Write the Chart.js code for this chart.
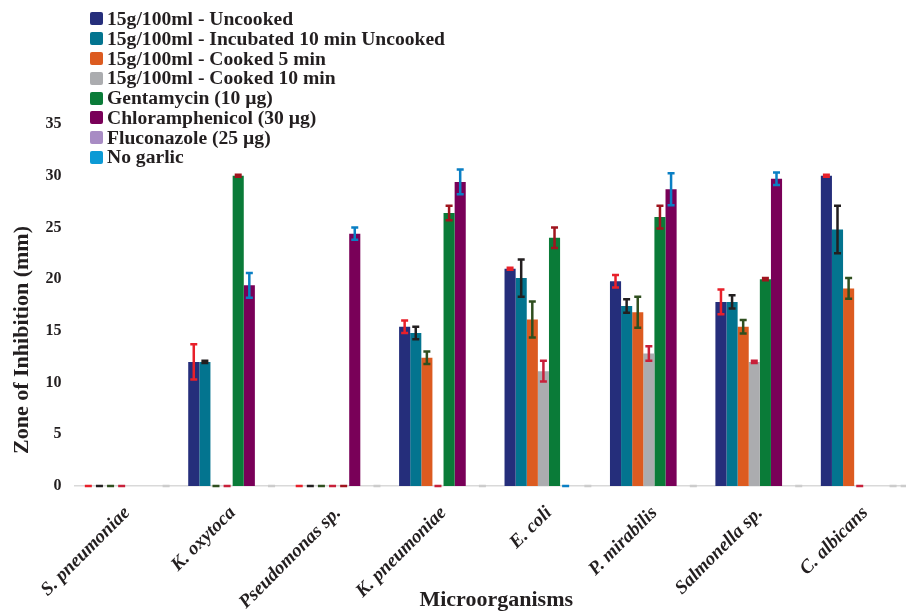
<!DOCTYPE html>
<html>
<head>
<meta charset="utf-8">
<script src="https://cdn.jsdelivr.net/npm/chart.js@4.4.0/dist/chart.umd.min.js"></script>
<style>
  html, body { margin: 0; padding: 0; background: #fff; overflow: hidden; }
  #wrap { position: relative; width: 920px; height: 611px; }
  #legenda { position: absolute; left: 90px; top: 9px; font: bold 19.6px "Liberation Serif", "Times New Roman", serif; color: #231f20; }
  .item { height: 19.8px; display: flex; align-items: center; white-space: nowrap; }
  .caixa { width: 13px; height: 13px; border-radius: 2px; margin-right: 4px; }
</style>
</head>
<body>
<div id="wrap">
  <canvas id="grafico" width="920" height="611"></canvas>
  <div id="legenda"></div>
</div>
<script>
// categorias (eixo x)
const microrganismos = ["S. pneumoniae", "K. oxytoca", "Pseudomonas sp.", "K. pneumoniae",
  "E. coli", "P. mirabilis", "Salmonella sp.", "C. albicans"];

// zonas de inibição (mm) e desvios -- null = sem barra de erro
const uncooked       = [0, 12.0, 0, 15.4, 21.0, 19.8, 17.8, 30.0];
const uncookedErr    = [0, 1.7, 0, 0.6, 0.1, 0.6, 1.2, 0.1];
const incubated      = [0, 12.0, 0, 14.8, 20.1, 17.4, 17.8, 24.8];
const incubatedErr   = [0, 0.1, 0, 0.6, 1.8, 0.65, 0.65, 2.3];
const cooked5        = [0, 0, 0, 12.4, 16.1, 16.8, 15.4, 19.1];
const cooked5Err     = [0, 0, 0, 0.6, 1.75, 1.5, 0.65, 1.0];
const cooked10       = [0, 0, 0, 0, 11.1, 12.8, 12.0, 0];
const cooked10Err    = [0, 0, 0, 0, 1.0, 0.7, 0.1, 0];
const gentamycin     = [0, 30.0, 0, 26.4, 24.0, 26.0, 20.0, 0];
const gentamycinErr  = [null, 0.1, 0, 0.7, 1.0, 1.1, 0.1, null];
const chloramph      = [0, 19.4, 24.4, 29.4, 0, 28.7, 29.7, 0];
const chloramphErr   = [null, 1.2, 0.6, 1.2, 0, 1.55, 0.6, null];
const fluconazole    = [0, 0, 0, 0, 0, 0, 0, 0];
const fluconazoleErr = [null, null, null, null, null, null, null, 0];
const noGarlic       = [0, 0, 0, 0, 0, 0, 0, 0];
const noGarlicErr    = [0, 0, 0, 0, 0, 0, 0, 0];

const nomes = ["15g/100ml - Uncooked", "15g/100ml - Incubated 10 min Uncooked",
  "15g/100ml - Cooked 5 min", "15g/100ml - Cooked 10 min", "Gentamycin (10 µg)",
  "Chloramphenicol (30 µg)", "Fluconazole (25 µg)", "No garlic"];
const valores = [uncooked, incubated, cooked5, cooked10, gentamycin, chloramph, fluconazole, noGarlic];
const erros = [uncookedErr, incubatedErr, cooked5Err, cooked10Err, gentamycinErr, chloramphErr, fluconazoleErr, noGarlicErr];

const cores = ["#252e7b", "#03748f", "#dc5b20", "#abacaf", "#0a7b38", "#790058", "#a88cc4", "#0c9ad5"];
const coresErro = ["#e8202a", "#231f20", "#2f4f1f", "#c8203a", "#a0141e", "#0a7fc4", "#cccccc", "#cccccc"];

const fonte = '"Liberation Serif", "Times New Roman", serif';
const corTexto = "#231f20";
const tituloY = "Zone of Inhibition (mm)";

// legenda em HTML
const leg = document.getElementById("legenda");
nomes.forEach((n, i) => {
  const d = document.createElement("div");
  d.className = "item";
  d.innerHTML = `<span class="caixa" style="background:${cores[i]}"></span>${n}`;
  leg.appendChild(d);
});

// barras de erro com cores próprias
const barrasErro = {
  id: "barrasErro",
  afterDatasetsDraw(chart) {
    const ctx = chart.ctx, y = chart.scales.y;
    chart.data.datasets.forEach((ds, i) => {
      chart.getDatasetMeta(i).data.forEach((bar, j) => {
        const e = ds.erro[j];
        if (e == null) return;
        const v = ds.data[j];
        const yTop = y.getPixelForValue(v + e);
        const yBot = y.getPixelForValue(Math.max(v - e, 0));
        ctx.save();
        ctx.strokeStyle = ds.corErro;
        ctx.lineWidth = 2.5;
        ctx.beginPath();
        ctx.moveTo(bar.x, yTop); ctx.lineTo(bar.x, yBot);
        ctx.moveTo(bar.x - 3.5, yTop); ctx.lineTo(bar.x + 3.5, yTop);
        ctx.moveTo(bar.x - 3.5, yBot); ctx.lineTo(bar.x + 3.5, yBot);
        ctx.stroke();
        ctx.restore();
      });
    });
  }
};

// título do eixo y (deslocado para baixo como no original)
const tituloEixoY = {
  id: "tituloEixoY",
  afterDraw(chart) {
    const ctx = chart.ctx;
    ctx.save();
    ctx.translate(22, 340);
    ctx.rotate(-Math.PI / 2);
    ctx.font = `bold 22px ${fonte}`;
    ctx.fillStyle = corTexto;
    ctx.textAlign = "center";
    ctx.textBaseline = "middle";
    ctx.fillText(tituloY, 0, 0);
    ctx.restore();
  }
};

new Chart(document.getElementById("grafico").getContext("2d"), {
  type: "bar",
  data: {
    labels: microrganismos,
    datasets: nomes.map((n, i) => ({
      label: n,
      data: valores[i],
      erro: erros[i],
      corErro: coresErro[i],
      backgroundColor: cores[i],
      categoryPercentage: 0.843,
      barPercentage: 1.0
    }))
  },
  options: {
    responsive: false,
    animation: false,
    layout: { padding: { top: 124, right: 2, left: 0, bottom: 0 } },
    plugins: { legend: { display: false }, tooltip: { enabled: false } },
    scales: {
      x: {
        grid: { display: false, drawTicks: false },
        border: { display: true, color: "#d9d9d9", width: 1.5 },
        ticks: {
          autoSkip: false, maxRotation: 45, minRotation: 45, padding: 16,
          color: corTexto, font: { family: fonte, size: 19, weight: "bold", style: "italic" }
        },
        title: { display: true, text: "Microorganisms", color: corTexto, padding: { top: 0, bottom: -3 },
          font: { family: fonte, size: 22, weight: "bold" } },
        afterFit: s => { s.height = 125; }
      },
      y: {
        min: 0, max: 35,
        grid: { display: false, drawTicks: false },
        border: { display: false },
        ticks: { stepSize: 5, padding: 13, color: corTexto,
          font: { family: fonte, size: 16, weight: "bold" } },
        afterFit: s => { s.width = 74.5; }
      }
    }
  },
  plugins: [barrasErro, tituloEixoY]
});
</script>
</body>
</html>
